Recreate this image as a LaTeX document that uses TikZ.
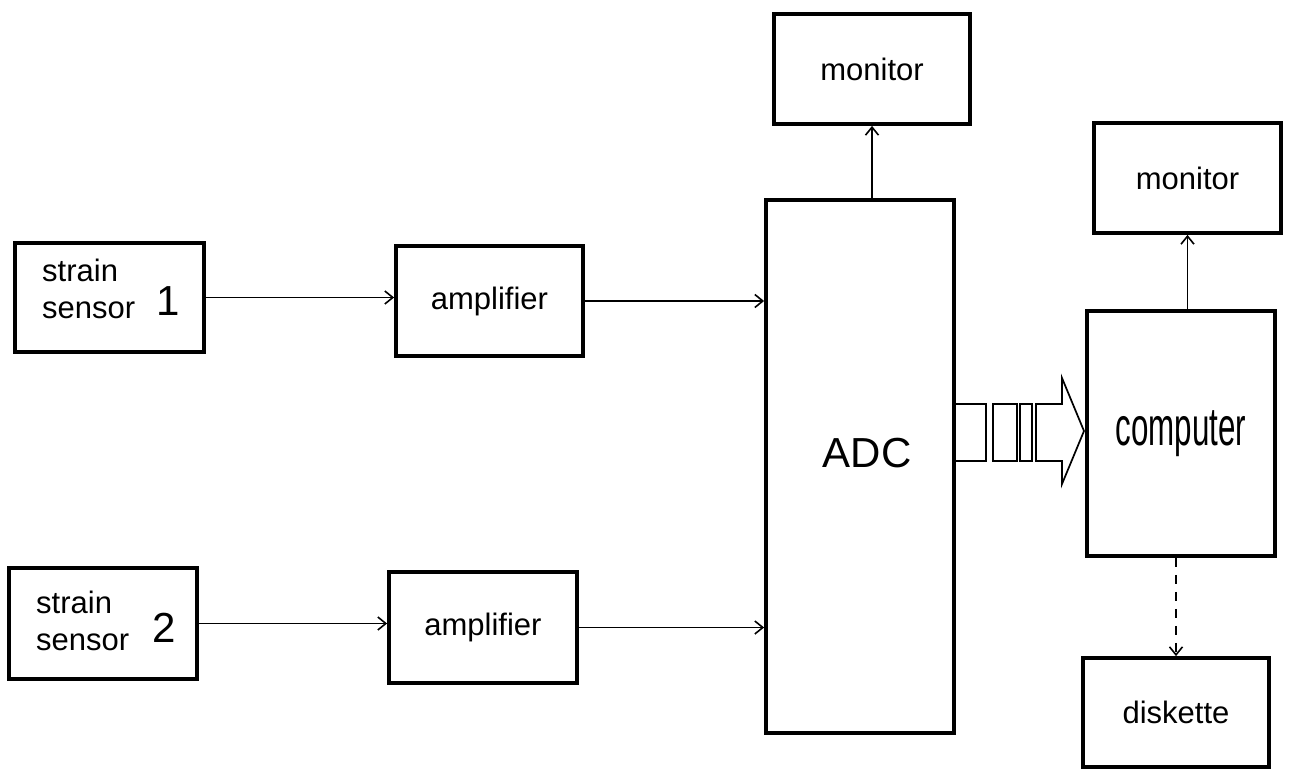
\documentclass[tikz,border=0pt]{standalone}
\usepackage{fontspec}
\setmainfont{Liberation Sans}
\usetikzlibrary{arrows.meta}

\begin{document}
\begin{tikzpicture}[x=1pt, y=-1pt,
  block/.style={draw, rectangle, line width=3.8pt, font=\fontsize{31}{37}\selectfont},
  link/.style={line width=1.6pt, -{Straight Barb[length=8pt,width=13pt]}},
  txt/.style={inner sep=0pt, anchor=base west, font=\fontsize{31}{37}\selectfont},
  digit/.style={inner sep=0pt, anchor=base west, font=\fontsize{42}{48}\selectfont},
  bus/.style={line width=1.7pt, line join=miter}]
  \useasboundingbox (0,0) rectangle (1290,770);

  % Draw the sensors
  \node[block, minimum width=189pt, minimum height=109pt] (sensorA) at (109.5,297.5) {};
  \node[txt] (sensorAtop) at (42,281) {strain};
  \node[txt] (sensorAbot) at (42,318) {sensor};
  \node[digit] (sensorAnum) at (156,315) {1};

  \node[block, minimum width=188pt, minimum height=111pt] (sensorB) at (103,623.5) {};
  \node[txt] (sensorBtop) at (36,613) {strain};
  \node[txt] (sensorBbot) at (36,650) {sensor};
  \node[digit] (sensorBnum) at (152,642) {2};

  % Draw the amplifiers
  \node[block, minimum width=187pt, minimum height=110pt] (ampA) at (489.5,301) {amplifier};
  \node[block, minimum width=188pt, minimum height=111pt] (ampB) at (483,627.5) {amplifier};

  % Draw the converter
  \node[block, minimum width=188pt, minimum height=533pt] (adc) at (860,466.5) {};
  \node[inner sep=0pt, font=\fontsize{42}{48}\selectfont] (adclabel) at (867,453) {ADC};

  % Draw the monitors, computer and diskette
  \node[block, minimum width=196pt, minimum height=110pt] (monA) at (872,69) {monitor};
  \node[block, minimum width=187pt, minimum height=110pt] (monB) at (1187.5,178) {monitor};
  \node[block, minimum width=188pt, minimum height=245pt,
        font=\fontsize{54}{60}\selectfont] (comp) at (1181,433.5) {\scalebox{0.58}[1]{computer}};
  \node[block, minimum width=186pt, minimum height=109pt] (disk) at (1176,712.5) {diskette};

  % Add the signal lines
  \draw[link] (sensorA.east) -- (sensorA.east -| ampA.west);
  \draw[link] (sensorB.east) -- (sensorB.east -| ampB.west);
  \draw[link] (ampA.east) -- (ampA.east -| adc.west);
  \draw[link] (ampB.east) -- (ampB.east -| adc.west);
  \draw[link] (adc.north -| monA) -- (monA.south);
  \draw[link] (comp.north -| monB) -- (monB.south);
  \draw[link, dash pattern=on 9pt off 8pt] (comp.south -| disk) -- (disk.north);

  % Add the data bus (adjust positions as needed)
  \draw[bus] (955,404) rectangle (986,461);
  \draw[bus] (993,404) rectangle (1017,461);
  \draw[bus] (1020,404) rectangle (1032,461);
  \draw[bus] (1036,404) -- (1062,404) -- (1062,378) -- (1084,431)
    -- (1062,484) -- (1062,461) -- (1036,461) -- cycle;
\end{tikzpicture}
\end{document}
